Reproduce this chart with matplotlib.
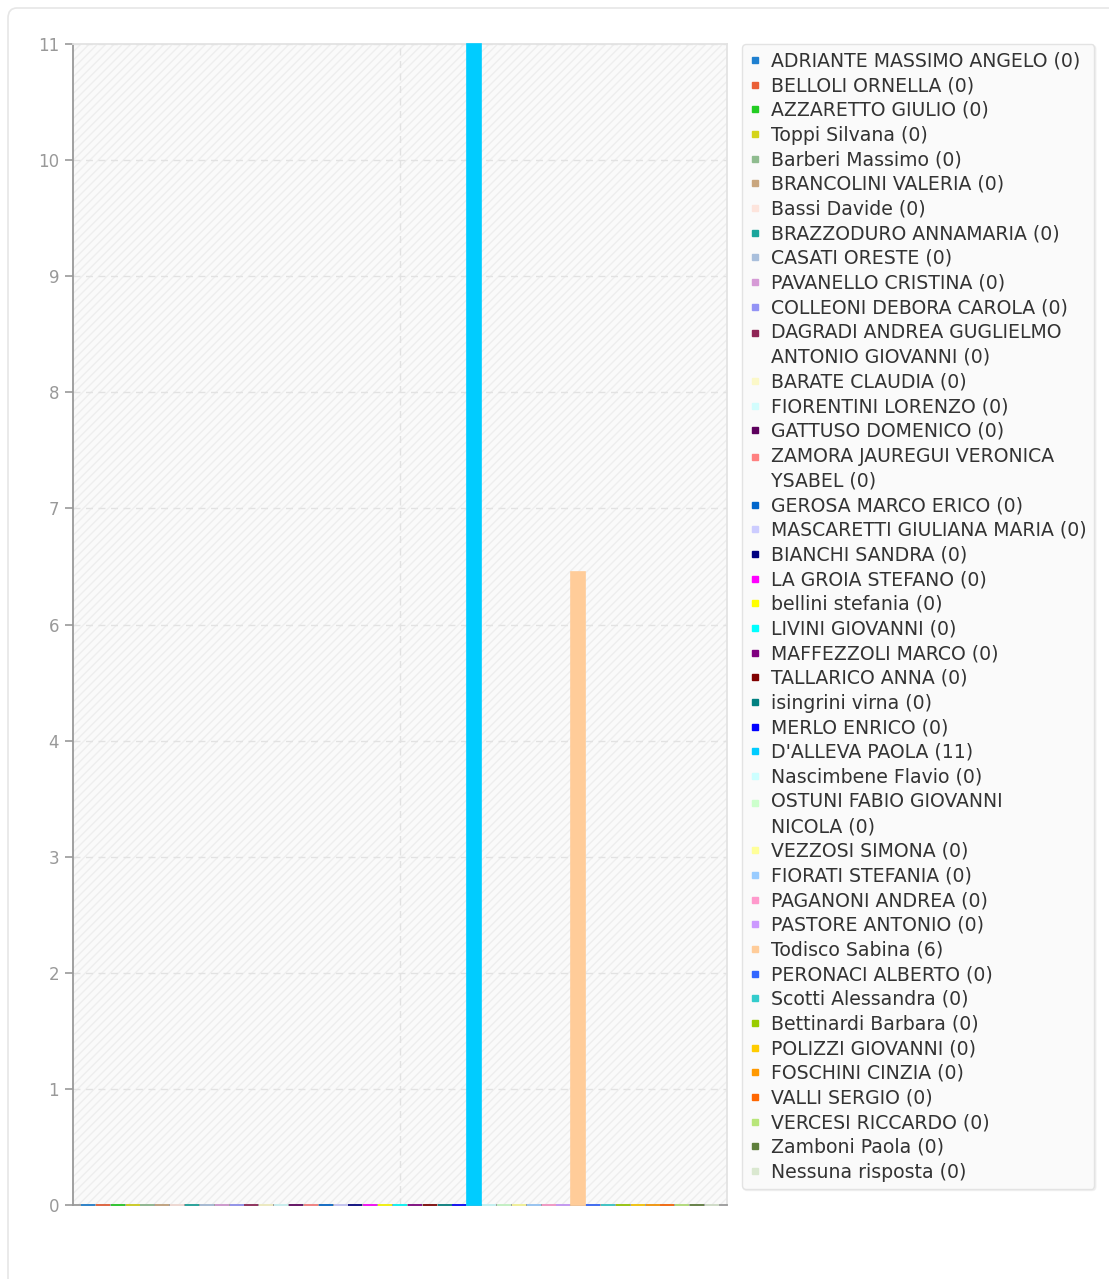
import matplotlib
matplotlib.use("Agg")
import matplotlib.pyplot as plt
import numpy as np
from matplotlib.patches import Rectangle, FancyBboxPatch
from matplotlib.lines import Line2D
from matplotlib.legend_handler import HandlerLine2D

NAMES = [
    "ADRIANTE MASSIMO ANGELO", "BELLOLI ORNELLA", "AZZARETTO GIULIO", "Toppi Silvana",
    "Barberi Massimo", "BRANCOLINI VALERIA", "Bassi Davide", "BRAZZODURO ANNAMARIA",
    "CASATI ORESTE", "PAVANELLO CRISTINA", "COLLEONI DEBORA CAROLA",
    "DAGRADI ANDREA GUGLIELMO\nANTONIO GIOVANNI", "BARATE CLAUDIA", "FIORENTINI LORENZO",
    "GATTUSO DOMENICO", "ZAMORA JAUREGUI VERONICA\nYSABEL", "GEROSA MARCO ERICO",
    "MASCARETTI GIULIANA MARIA", "BIANCHI SANDRA", "LA GROIA STEFANO", "bellini stefania",
    "LIVINI GIOVANNI", "MAFFEZZOLI MARCO", "TALLARICO ANNA", "isingrini virna",
    "MERLO ENRICO", "D'ALLEVA PAOLA", "Nascimbene Flavio", "OSTUNI FABIO GIOVANNI\nNICOLA",
    "VEZZOSI SIMONA", "FIORATI STEFANIA", "PAGANONI ANDREA", "PASTORE ANTONIO",
    "Todisco Sabina", "PERONACI ALBERTO", "Scotti Alessandra", "Bettinardi Barbara",
    "POLIZZI GIOVANNI", "FOSCHINI CINZIA", "VALLI SERGIO", "VERCESI RICCARDO",
    "Zamboni Paola", "Nessuna risposta",
]
VALUES = [0] * 26 + [11] + [0] * 6 + [6] + [0] * 9
COLORS = [
    "#1f80d0", "#ea5f36", "#22cc22", "#d4d41a", "#8fbc8f", "#c9a67e", "#fde4dc",
    "#1aa59c", "#a9bfdc", "#d69ad6", "#9393f5", "#8f2556", "#fbf8c8", "#d2fdfd",
    "#5d005d", "#ff8080", "#0066cc", "#ccccff", "#000080", "#ff00ff", "#ffff00",
    "#00ffff", "#800080", "#800000", "#008080", "#0000ff", "#00ccff", "#ccffff",
    "#ccffcc", "#ffff99", "#99ccff", "#ff99cc", "#cc99ff", "#ffcc99", "#3366ff",
    "#33cccc", "#99cc00", "#ffcc00", "#ff9900", "#ff6600", "#b8e67a", "#5f7f3c",
    "#dae8d0",
]
# the chart splits 0..11 into 10 steps and rounds the labels (5.5 -> 6)
Y_MAX = 11
Y_TICK_LABELS = ["0", "1", "2", "3", "4", "6", "7", "8", "9", "10", "11"]

LEG_FONT = 13.6
LINE_PITCH_PT = 25 * 0.72


class TopHandler(HandlerLine2D):
    # put the marker next to the first line of a wrapped label
    def __init__(self, nlines, **kw):
        super().__init__(**kw)
        self.nlines = nlines

    def create_artists(self, legend, orig_handle, xdescent, ydescent, width, height,
                       fontsize, trans):
        arts = super().create_artists(legend, orig_handle, xdescent, ydescent, width,
                                      height, fontsize, trans)
        shift = (self.nlines - 1) * LINE_PITCH_PT / 2
        for a in arts:
            a.set_ydata([y + shift for y in a.get_ydata()])
        return arts


fig = plt.figure(figsize=(11.09, 12.79), dpi=100)

# card border
fig.patches.append(FancyBboxPatch((8 / 1109, -0.1), 1.1, 1.1 - 8 / 1279,
                                  boxstyle="round,pad=0,rounding_size=0.008",
                                  transform=fig.transFigure, facecolor="none",
                                  edgecolor="#e6e6e6", lw=1.2, zorder=-1))

ax = fig.add_axes([73 / 1109, 74 / 1279, 654 / 1109, 1161 / 1279])
ax.set_facecolor("#fafafa")
ax.add_patch(Rectangle((0, 0), 1, 1, transform=ax.transAxes, facecolor="#fafafa",
                       edgecolor="#eeeeee", hatch="////", lw=0, zorder=0))

n = len(NAMES)
slot = 0.9543 / (n - 1)
for i, (name, v, c) in enumerate(zip(NAMES, VALUES, COLORS)):
    x = (i - (n - 1) / 2) * slot
    ax.bar(x, v, width=0.0214, color=c, edgecolor=c, linewidth=1.2, zorder=3, clip_on=False)

ax.set_xlim(-0.5, 0.5)
ax.set_ylim(0, Y_MAX)
ax.set_yticks(np.linspace(0, Y_MAX, len(Y_TICK_LABELS)))
ax.set_yticklabels(Y_TICK_LABELS)
ax.set_xticks([0])
ax.set_xticklabels([])
ax.tick_params(axis="x", length=0)
ax.tick_params(axis="y", colors="#999999", labelsize=12, length=6, width=1.2, pad=4)
ax.grid(True, color="#e2e2e2", linestyle=(0, (5, 4)), linewidth=1, zorder=1)
ax.set_axisbelow(True)
for s in ["left", "bottom"]:
    ax.spines[s].set_color("#999999")
    ax.spines[s].set_linewidth(1.3)
for s in ["top", "right"]:
    ax.spines[s].set_color("#e3e3e3")
    ax.spines[s].set_linewidth(1.3)

handles = [Line2D([], [], marker="s", linestyle="", markersize=5, color=c) for c in COLORS]
labels = [f"{nm} ({v})" for nm, v in zip(NAMES, VALUES)]
handler_map = {h: TopHandler(nm.count("\n") + 1) for h, nm in zip(handles, NAMES)}
leg = fig.legend(handles, labels, loc="upper left", handler_map=handler_map,
                 bbox_to_anchor=(742 / 1109, 1 - 44 / 1279), borderaxespad=0,
                 fontsize=LEG_FONT, frameon=True, fancybox=True, facecolor="#fafafa",
                 edgecolor="#e3e3e3", framealpha=1, handlelength=0.55, handletextpad=0.6,
                 labelspacing=0.3, borderpad=0.4,
                 shadow={"color": "#e8e8e8", "ox": 1, "oy": -1})
for t in leg.get_texts():
    t.set_color("#333333")
    t.set_linespacing(1.4)

fig.savefig("out.png", dpi=100, facecolor="white")
